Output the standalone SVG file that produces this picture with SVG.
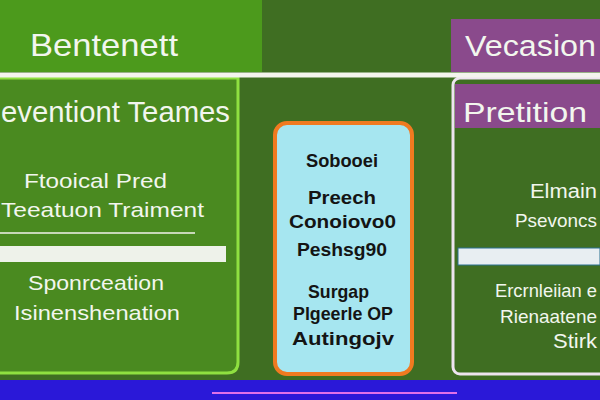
<svg xmlns="http://www.w3.org/2000/svg" width="600" height="400" viewBox="0 0 600 400">
<style>
.w{fill:#f2f6ee;font-family:"Liberation Sans",Arial,sans-serif}
.k{fill:#141414;font-family:"Liberation Sans",Arial,sans-serif;font-weight:bold;font-size:19px}
</style>
<rect width="600" height="400" fill="#3f6e22"/>
<g id="benefit">
<rect x="0" y="0" width="262" height="72" fill="#4c9a1c"/>
<text class="w" x="30" y="56" font-size="32" textLength="148" lengthAdjust="spacingAndGlyphs">Bentenett</text>
</g>
<g id="prevention">
<path d="M-5 78 H238 V362 Q238 373 227 373 H-5 Z" fill="#4a8a20" stroke="#8fe040" stroke-width="3"/>
<text class="w" x="1" y="122" font-size="29" textLength="229" lengthAdjust="spacingAndGlyphs">eventiont Teames</text>
<text class="w" x="24" y="188" font-size="21" textLength="143" lengthAdjust="spacingAndGlyphs">Ftooical Pred</text>
<text class="w" x="1" y="217" font-size="21" textLength="203" lengthAdjust="spacingAndGlyphs">Teeatuon Traiment</text>
<line x1="0" y1="233" x2="195" y2="233" stroke="#c8d8b8" stroke-width="2"/>
<rect x="0" y="246" width="226" height="16" fill="#eef2ea"/>
<text class="w" x="28" y="290" font-size="21" textLength="136" lengthAdjust="spacingAndGlyphs">Sponrceation</text>
<text class="w" x="14" y="320" font-size="21" textLength="166" lengthAdjust="spacingAndGlyphs">Isinenshenation</text>
</g>
<g id="vacation">
<rect x="451" y="19" width="149" height="53" fill="#8a4a8c"/>
<text class="w" x="465" y="56" font-size="29" textLength="131" lengthAdjust="spacingAndGlyphs">Vecasion</text>
</g>
<g id="prediction">
<rect x="453" y="78" width="160" height="296" rx="7" fill="#3f6e22" stroke="#eee4f0" stroke-width="3"/>
<rect x="455" y="84" width="145" height="44" fill="#8a4a8c"/>
<text class="w" x="463" y="122" font-size="28" textLength="124" lengthAdjust="spacingAndGlyphs">Pretition</text>
<text class="w" x="530" y="198" font-size="20" textLength="67" lengthAdjust="spacingAndGlyphs">Elmain</text>
<text class="w" x="515" y="227" font-size="19" textLength="82" lengthAdjust="spacingAndGlyphs">Psevoncs</text>
<rect x="458" y="248" width="142" height="17" fill="#e8eef2" stroke="#2a7090" stroke-width="1"/>
<text class="w" x="495" y="297" font-size="18" textLength="102" lengthAdjust="spacingAndGlyphs">Ercrnleiian e</text>
<text class="w" x="500" y="323" font-size="19" textLength="97" lengthAdjust="spacingAndGlyphs">Rienaatene</text>
<text class="w" x="553" y="348" font-size="20" textLength="44" lengthAdjust="spacingAndGlyphs">Stirk</text>
</g>
<g id="center">
<rect x="275" y="123" width="137" height="251" rx="12" fill="#a6e6f0" stroke="#f07a20" stroke-width="4"/>
<text class="k" x="306" y="167" textLength="72" lengthAdjust="spacingAndGlyphs">Sobooei</text>
<text class="k" x="308" y="204" textLength="68" lengthAdjust="spacingAndGlyphs">Preech</text>
<text class="k" x="289" y="228" textLength="107" lengthAdjust="spacingAndGlyphs">Conoiovo0</text>
<text class="k" x="297" y="256" textLength="90" lengthAdjust="spacingAndGlyphs">Peshsg90</text>
<text class="k" x="308" y="298" textLength="61" lengthAdjust="spacingAndGlyphs">Surgap</text>
<text class="k" x="293" y="320" textLength="100" lengthAdjust="spacingAndGlyphs">Plgeerle OP</text>
<text class="k" x="292" y="345" textLength="102" lengthAdjust="spacingAndGlyphs">Autingojv</text>
</g>
<g id="connectors">
<line x1="0" y1="75" x2="600" y2="75" stroke="#f4f4ee" stroke-width="5"/>
</g>
<rect x="0" y="380" width="600" height="20" fill="#2a18d8"/>
<line x1="212" y1="393" x2="457" y2="393" stroke="#e070e8" stroke-width="2"/>
</svg>
